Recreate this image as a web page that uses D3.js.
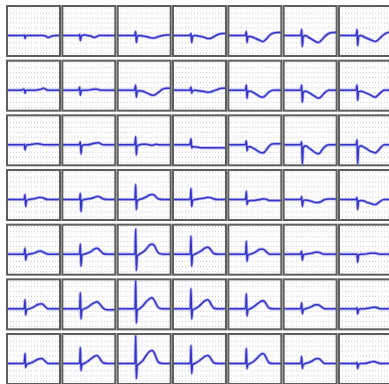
<!DOCTYPE html>
<html><head><meta charset="utf-8">
<script src="https://cdn.jsdelivr.net/npm/d3@7"></script>
<style>html,body{margin:0;padding:0;background:#fff;overflow:hidden}</style>
</head><body><svg id="c" width="389" height="384"></svg>
<script>
// sample times (ms) shared by every beat
const times = [0,80,160,220,250,262,272,282,295,330,380,430,480,520,550,580,620,680,740,800];

// beats per row (7 leads/panels per row), amplitude in mV
const row1 = [
 [0,0,0,0,0,0.05,-0.3,-0.1,0,0,0,0,0,0,0,-0.05,-0.2,-0.05,0,0],
 [0,0,0,0,0,0.1,-0.5,-0.2,0,0.05,0,-0.05,-0.2,-0.1,0,0,0,0,0,0],
 [0,0,0,0,0,0.1,0.4,-0.7,-0.1,0,-0.05,-0.1,-0.2,-0.25,-0.25,-0.2,-0.1,0,0.05,0.05],
 [0,0,0,0,0,0.05,0.2,-0.7,-0.1,0,-0.05,-0.1,-0.2,-0.3,-0.3,-0.25,-0.1,0.1,0.2,0.2],
 [0,0,0,0,0,0.1,0.4,-0.7,-0.1,-0.1,-0.2,-0.35,-0.5,-0.6,-0.5,-0.3,0,0.25,0.3,0.3],
 [0,0,0,0,0,0.1,0.6,-1.1,-0.1,0,-0.2,-0.4,-0.6,-0.7,-0.6,-0.4,-0.1,0.2,0.3,0.3],
 [0,0,0,0,0,0.1,0.6,-1.0,-0.1,0,-0.15,-0.3,-0.45,-0.55,-0.6,-0.5,-0.25,0.1,0.3,0.3]
];
const row2 = [
 [0,0,0,0,0.1,0.05,-0.3,-0.1,0,0,0,0,0.05,0.1,0.2,0.1,0,0,0,0],
 [0,0,0,0,0.05,0.3,-0.5,-0.2,0,0,0,0.05,0.1,0.1,0.05,0,0,0,0,0],
 [0,0,0,0,0,0.2,0.5,-0.7,-0.1,-0.05,-0.1,-0.25,-0.4,-0.5,-0.5,-0.4,-0.2,0.1,0.2,0.2],
 [0,0,0,0,0,0.1,0.3,-0.3,-0.05,0,-0.05,-0.1,-0.15,-0.2,-0.2,-0.15,-0.05,0.1,0.2,0.2],
 [0,0,0,0,0,0.1,0.5,-0.8,-0.1,-0.1,-0.25,-0.45,-0.65,-0.7,-0.6,-0.4,-0.15,0,0,0],
 [0,0,0,0,0,0.1,0.5,-1.2,-0.2,-0.1,-0.25,-0.45,-0.65,-0.8,-0.75,-0.55,-0.25,0,0,0],
 [0,0,0,0,0,0.1,0.5,-1.0,-0.15,-0.1,-0.2,-0.35,-0.5,-0.65,-0.7,-0.55,-0.3,0,0,0]
];
const row3 = [
 [0,0,0,0,0,0.05,-0.5,-0.2,0,0,0.05,0.1,0.1,0.05,0,0,0,0,0,0],
 [0,0,0,0,0,0.1,0.3,-0.9,-0.1,0,0,0.05,0.15,0.2,0.2,0.1,0,0,0,0],
 [0,0,0,0,0,0.2,0.8,-1.0,-0.1,0,0.05,0.05,0,-0.05,0,0.05,0,0,0,0],
 [0,0,0,0,0,0.2,0.6,-0.3,-0.2,-0.2,-0.25,-0.3,-0.3,-0.3,-0.3,-0.3,-0.3,-0.3,-0.3,-0.3],
 [0,0,0,0,0,0.1,0.4,-0.6,-0.2,-0.2,-0.35,-0.55,-0.75,-0.8,-0.7,-0.45,-0.1,0.1,0.1,0.1],
 [0,0,0,0,0,0.1,0.3,-1.9,-0.3,-0.1,-0.3,-0.55,-0.8,-0.9,-0.8,-0.5,-0.2,0,0,0],
 [0,0,0,0,0,0.1,0.5,-1.9,-0.3,-0.1,-0.25,-0.45,-0.65,-0.75,-0.8,-0.65,-0.35,0,0,0]
];
const row4 = [
 [0,0,0,0,0,0.1,0.5,-0.7,-0.1,0,0.05,0.1,0.2,0.2,0.15,0.05,0,0,0,0],
 [0,0,0,0,0,0.1,0.6,-1.2,-0.1,0,0.05,0.1,0.2,0.3,0.3,0.2,0.05,0,0,0],
 [0,0,0,0,0,0.1,1.5,-1.0,-0.1,0,0.1,0.25,0.45,0.5,0.45,0.25,0.05,0,0,0],
 [0,0,0,0,0,0.1,1.1,-0.7,-0.1,0,0.05,0.1,0.15,0.2,0.2,0.15,0.05,0,0,0],
 [0,0,0,0,0,0.1,0.8,-0.5,-0.2,-0.1,-0.1,-0.05,0,0.05,0.05,0,-0.1,-0.1,-0.1,-0.1],
 [0,0,0,0,0,0.05,0.3,-0.7,-0.1,-0.05,-0.1,-0.2,-0.3,-0.3,-0.25,-0.15,0,0.05,0.05,0.05],
 [0,0,0,0,0,0.05,0.2,-1.0,-0.15,-0.1,-0.15,-0.3,-0.4,-0.5,-0.5,-0.4,-0.2,0,0,0]
];
const row5 = [
 [0,0,0,0,0,0.1,0.6,-0.6,-0.1,0,0.05,0.15,0.3,0.3,0.2,0.1,0,0,0,0],
 [0,0,0,0,0,0.1,1.0,-1.2,-0.1,0,0.1,0.25,0.5,0.6,0.5,0.3,0.05,0,0,0],
 [0,0,0,0,0,0.1,2.5,-1.6,-0.2,0,0.2,0.5,0.9,1.0,0.9,0.5,0.1,0,0,0],
 [0,0,0,0,0,0.1,1.8,-1.2,-0.1,0,0.15,0.35,0.6,0.7,0.6,0.35,0.05,0,0,0],
 [0,0,0,0,0,0.1,1.3,-0.7,-0.1,0,0.1,0.3,0.5,0.5,0.4,0.2,0,0,0,0],
 [0,0,0,0,0,0.1,0.3,-0.6,-0.1,0,0.05,0.1,0.2,0.2,0.15,0.05,0,0,0,0],
 [0,0,0,0,0,0,0,-0.8,-0.1,0,0,0.05,0.1,0.1,0.1,0.05,0,0,0,0]
];
const row6 = [
 [0,0,0,0,0,0.1,0.9,-0.6,-0.1,0,0.1,0.3,0.45,0.5,0.4,0.2,0,0,0,0],
 [0,0,0,0,0,0.1,1.6,-1.0,-0.1,0,0.15,0.4,0.6,0.7,0.6,0.35,0.05,-0.1,-0.1,-0.1],
 [0,0,0,0,0,0.1,2.8,-1.4,-0.1,0,0.3,0.7,1.0,1.1,0.9,0.5,0.1,0,0,0],
 [0,0,0,0,0,0.1,2.0,-1.0,-0.1,0,0.2,0.5,0.8,0.9,0.75,0.4,0.05,0,0,0],
 [0,0,0,0,0,0.1,1.5,-0.7,-0.1,0,0.2,0.45,0.7,0.8,0.7,0.4,0.05,0,0,0],
 [0,0,0,0,0,0.1,0.6,-0.5,-0.1,0,0.1,0.25,0.4,0.4,0.3,0.15,0,0,0,0],
 [0,0,0,0,0,0,0.1,-0.5,-0.1,0,0,0.05,0.1,0.15,0.15,0.1,0,0,0,0]
];
const row7 = [
 [0,0,0,0,0,0.1,1.0,-0.4,-0.1,0,0.1,0.3,0.45,0.5,0.4,0.2,0,0,0,0],
 [0,0,0,0,0,0.1,1.6,-0.7,-0.1,0,0.2,0.45,0.7,0.8,0.65,0.35,0.05,0,0,0],
 [0,0,0,0,0,0.1,2.8,-1.5,-0.2,0,0.3,0.8,1.2,1.3,1.1,0.6,0.1,0,0,0],
 [0,0,0,0,0,0.1,1.8,-1.0,-0.1,0,0.2,0.45,0.7,0.8,0.7,0.4,0.05,0,0,0],
 [0,0,0,0,0,0.1,1.5,-0.5,-0.1,0,0.2,0.5,0.85,1.0,0.85,0.45,0.05,0,0,0],
 [0,0,0,0,0,0.1,0.7,-0.5,-0.1,0,0.1,0.25,0.45,0.5,0.4,0.2,0,0,0,0],
 [0,0,0,0,0,0,0.1,-0.5,-0.1,0,0,0.05,0.15,0.2,0.15,0.1,0,0,0,0]
];
const rows = [row1,row2,row3,row4,row5,row6,row7];

const svg = d3.select("#c");
const pw = 53, ph = 50;
const colScale = d3.scaleLinear().domain([0,6]).range([7, 339]);
const rowScale = d3.scaleLinear().domain([0,6]).range([6, 334]);
const x = d3.scaleLinear().domain([0, 800]).range([0, pw]);
const y = d3.scaleLinear().domain([-2.05, 2.95]).range([ph, 0]);
const line = d3.line().x((d,i)=>x(times[i])).y(d=>y(d)).curve(d3.curveMonotoneX);

rows.forEach((row, r) => {
  row.forEach((beat, c) => {
    const g = svg.append("g").attr("transform", `translate(${colScale(c)},${rowScale(r)})`);
    const id = `clip${r}_${c}`;
    g.append("clipPath").attr("id", id).append("rect").attr("width", pw).attr("height", ph);
    const inner = g.append("g").attr("clip-path", `url(#${id})`);
    inner.selectAll(".hg").data(d3.range(-1.75, 2.9, 0.5)).enter().append("line")
      .attr("x1", 0).attr("x2", pw).attr("y1", d=>y(d)).attr("y2", d=>y(d))
      .attr("stroke", "#c8c8d8").attr("stroke-width", 1).attr("stroke-dasharray", "1,2");
    inner.selectAll(".vg").data(d3.range(40, 800, 80)).enter().append("line")
      .attr("y1", 0).attr("y2", ph).attr("x1", d=>x(d)).attr("x2", d=>x(d))
      .attr("stroke", "#e4e4ec").attr("stroke-width", 1).attr("stroke-dasharray", "1,3");
    inner.append("path").attr("d", line(beat)).attr("fill", "none")
      .attr("stroke", "#8888e8").attr("stroke-width", 3.2).attr("stroke-opacity", 0.6);
    inner.append("path").attr("d", line(beat)).attr("fill", "none")
      .attr("stroke", "#3434c8").attr("stroke-width", 1.5);
    g.append("rect").attr("width", pw).attr("height", ph).attr("fill", "none")
      .attr("stroke", "#5e5e5e").attr("stroke-width", 2);
  });
});
</script></body></html>
